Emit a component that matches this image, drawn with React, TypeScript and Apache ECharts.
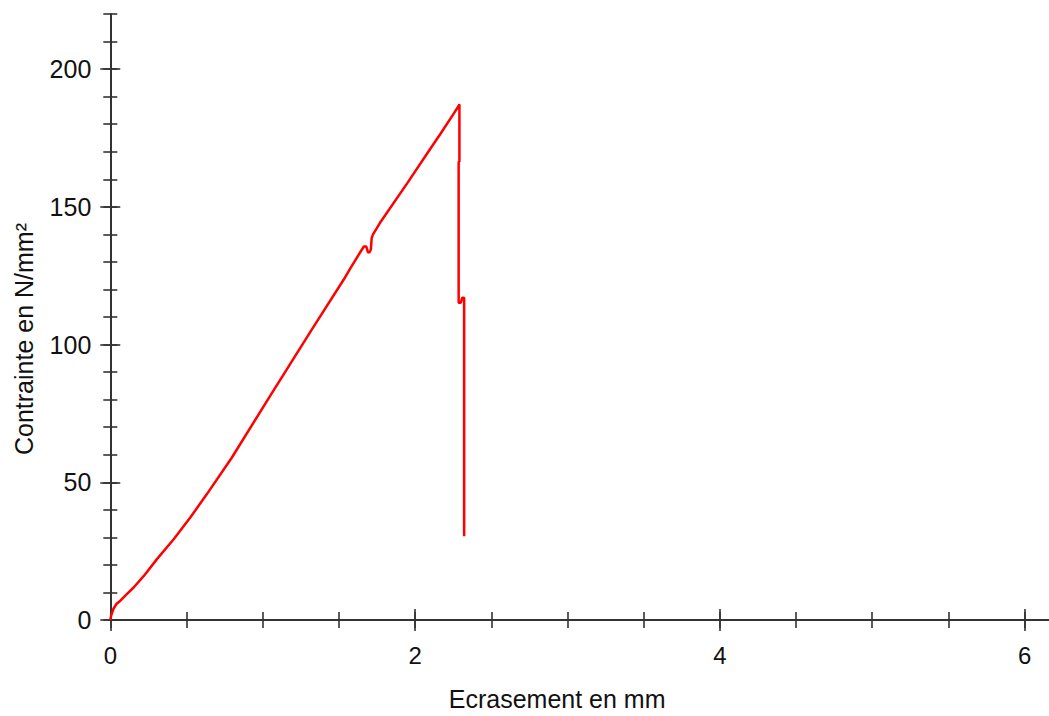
import React, { useEffect, useRef } from "react";
import * as echarts from "echarts";

// Ecrasement (mm)
const ecrasement: number[] = [
  0, 0.005, 0.02, 0.04, 0.066, 0.11, 0.153, 0.22, 0.306, 0.416, 0.526, 0.635,
  0.797, 1.048, 1.322, 1.532, 1.577, 1.64, 1.664, 1.68, 1.69, 1.7, 1.71, 1.715,
  1.723, 1.77, 1.949, 2.099, 2.168, 2.26, 2.285, 2.291, 2.291, 2.286, 2.286,
  2.3, 2.31, 2.322, 2.322,
];
// Contrainte (N/mm²)
const contrainte: number[] = [
  0, 1.5, 4, 5.8, 7.0, 9.5, 11.8, 16, 22.1, 29.3, 37.3, 45.8, 58.9, 81.3, 105.4,
  123.6, 127.8, 133.5, 135.6, 135.6, 133.6, 133.4, 134.5, 138.5, 139.9, 144.2,
  158.6, 171.0, 176.6, 184.4, 186.5, 187.2, 166.4, 166.4, 115.2, 115.2, 117.0,
  117.0, 30.4,
];

const xMajorTicks = [0, 2, 4, 6];
const xMinorTicks = [0, 0.5, 1, 1.5, 2, 2.5, 3, 3.5, 4, 4.5, 5, 5.5, 6];
const yMajorTicks = [0, 50, 100, 150, 200];
const yMinorTicks = [
  0, 10, 20, 30, 40, 50, 60, 70, 80, 90, 100, 110, 120, 130, 140, 150, 160,
  170, 180, 190, 200, 210, 220,
];

const xTitle = "Ecrasement en mm";
const yTitle = "Contrainte en N/mm²";

const FONT = "'Liberation Sans', Arial, sans-serif";
const AXIS_COLOR = "#333333";

export default function App() {
  const ref = useRef<HTMLDivElement>(null);

  useEffect(() => {
    if (!ref.current) return;
    const chart = echarts.init(ref.current, undefined, { renderer: "svg" });
    const data = ecrasement.map((x, i) => [x, contrainte[i]]);

    const baseX = (extra: any) => ({
      type: "value",
      min: 0,
      max: 6.16,
      interval: 0.5,
      position: "bottom",
      splitLine: { show: false },
      axisLine: { show: false, onZero: false },
      axisLabel: { show: false },
      ...extra,
    });
    const baseY = (extra: any) => ({
      type: "value",
      min: 0,
      max: 220,
      interval: 10,
      position: "left",
      splitLine: { show: false },
      axisLine: { show: false, onZero: false },
      axisLabel: { show: false },
      ...extra,
    });
    const tick = (vals: number[], len: number, inside: boolean) => ({
      show: true,
      inside,
      length: len,
      customValues: vals,
      lineStyle: { color: AXIS_COLOR, width: 1.6 },
    });

    chart.setOption({
      animation: false,
      backgroundColor: "#ffffff",
      grid: { left: 110.3, right: 0, top: 14, bottom: 93.5, containLabel: false },
      xAxis: [
        baseX({
          axisLine: { show: true, onZero: false, lineStyle: { color: AXIS_COLOR, width: 2 } },
          axisTick: tick(xMinorTicks, 8, false),
          axisLabel: {
            show: true,
            customValues: xMajorTicks,
            margin: 23,
            color: "#111",
            fontSize: 24,
            fontFamily: FONT,
          },
          name: xTitle,
          nameLocation: "middle",
          nameGap: 66,
          nameTextStyle: {
            color: "#111",
            fontSize: 25,
            fontFamily: FONT,
            padding: [0, 45, 0, 0],
          },
        }),
        baseX({ axisTick: tick(xMinorTicks, 8, true) }),
        baseX({ axisTick: tick(xMajorTicks, 11, false) }),
        baseX({ axisTick: tick(xMajorTicks, 11, true) }),
      ],
      yAxis: [
        baseY({
          axisLine: { show: true, onZero: false, lineStyle: { color: AXIS_COLOR, width: 2 } },
          axisTick: tick(yMinorTicks, 7, false),
          axisLabel: {
            show: true,
            customValues: yMajorTicks,
            margin: 19,
            color: "#111",
            fontSize: 25,
            fontFamily: FONT,
          },
          name: yTitle,
          nameLocation: "middle",
          nameGap: 74,
          nameTextStyle: {
            color: "#111",
            fontSize: 25,
            fontFamily: FONT,
            padding: [0, 44, 0, 0],
          },
        }),
        baseY({ axisTick: tick(yMinorTicks, 7, true) }),
        baseY({ axisTick: tick(yMajorTicks, 10, false) }),
        baseY({ axisTick: tick(yMajorTicks, 10, true) }),
      ],
      series: [
        {
          type: "line",
          xAxisIndex: 0,
          yAxisIndex: 0,
          data,
          showSymbol: false,
          symbol: "none",
          lineStyle: { color: "#ff0000", width: 2.5 },
          clip: false,
        },
      ],
    });

    return () => chart.dispose();
  }, []);

  return (
    <div
      ref={ref}
      style={{ position: "absolute", left: 0, top: 0, width: 1049, height: 716 }}
    />
  );
}
